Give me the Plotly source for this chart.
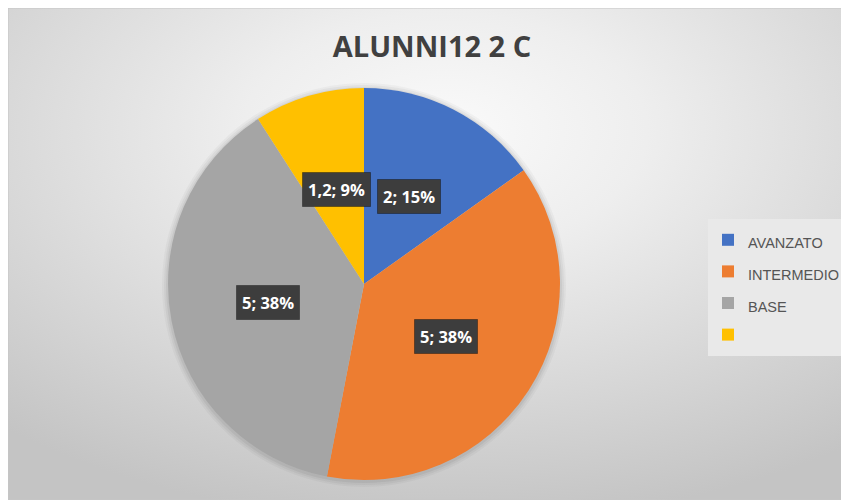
import math
import base64
import plotly.graph_objects as go

# ---- data ----
categories = ["AVANZATO", "INTERMEDIO", "BASE", ""]
values = [2, 5, 5, 1.2]
colors = ["#4472C4", "#ED7D31", "#A5A5A5", "#FFC000"]
title_text = "ALUNNI12 2 C"

# ---- layout constants (reference pixel coords; page body has an 8px margin) ----
OFF = 8
W, H = 849 - OFF, 500 - OFF
PW, PH = W, H
CX, CY, R = 364 - OFF, 284 - OFF, 196  # pie centre / radius in figure px


def fx(px):
    return px / PW


def fy(py):
    return 1 - py / PH


def fmt_val(v):
    return ("%g" % v).replace(".", ",")


total = sum(values)
pcts = [round(100 * v / total) for v in values]
label_texts = [f"{fmt_val(v)}; {p}%" for v, p in zip(values, pcts)]
legend_names = [f"<span style='font-size:14.5px'>{c}</span>" for c in categories]

fig = go.Figure()
fig.add_trace(go.Pie(
    labels=legend_names,
    values=values,
    sort=False,
    direction="clockwise",
    rotation=0,
    marker=dict(colors=colors, line=dict(width=0)),
    textinfo="none",
    hoverinfo="skip",
    domain=dict(x=[fx(CX - R), fx(CX + R)], y=[fy(CY + R), fy(CY - R)]),
))

# data labels (positions derived from the slice angles)
annotations = []
cum = 0
for v, t in zip(values, label_texts):
    mid = (cum + v / 2) / total
    cum += v
    th = 2 * math.pi * mid
    r = 0.5 * R
    px = CX + r * math.sin(th)
    py = CY - r * math.cos(th)
    annotations.append(dict(x=fx(px), y=fy(py), xref="paper", yref="paper", showarrow=False,
                            text=t, borderpad=5, xanchor="center", yanchor="middle",
                            bgcolor="#3d3d3d", bordercolor="rgba(0,0,0,0.35)", borderwidth=1,
                            font=dict(family="Open Sans", size=16.5, color="white", weight="bold")))

svg = (
    f'<svg xmlns="http://www.w3.org/2000/svg" width="{PW}" height="{PH}">'
    '<defs><radialGradient id="g" cx="52%" cy="25%" r="80%">'
    '<stop offset="0" stop-color="#fafafa"/>'
    '<stop offset="0.3" stop-color="#eeeeee"/>'
    '<stop offset="1" stop-color="#c4c4c4"/>'
    '</radialGradient></defs>'
    f'<rect width="{PW}" height="{PH}" fill="url(#g)"/></svg>'
)
src = "data:image/svg+xml;base64," + base64.b64encode(svg.encode()).decode()

shadow_shapes = []
for k, a in [(6, 0.03), (4, 0.04), (2, 0.05)]:
    shadow_shapes.append(dict(type="circle", xref="paper", yref="paper",
                              x0=fx(CX - R - k), x1=fx(CX + R + k),
                              y0=fy(CY + R + k + 1), y1=fy(CY - R - k + 1),
                              fillcolor=f"rgba(0,0,0,{a})", line=dict(width=0),
                              layer="below"))

fig.update_layout(
    width=W, height=H,
    margin=dict(l=0, r=0, t=0, b=0, pad=0),
    paper_bgcolor="white",
    plot_bgcolor="rgba(0,0,0,0)",
    title=dict(text=title_text, x=fx(432 - OFF), xref="paper", xanchor="center",
               y=fy(47 - OFF), yref="paper", yanchor="middle",
               font=dict(family="Open Sans", size=29, color="#404040", weight="bold")),
    legend=dict(
        x=fx(708 - OFF), xanchor="left",
        y=fy(219 - OFF), yanchor="top",
        bgcolor="#e9e9e9",
        font=dict(family="Liberation Sans", size=22, color="#555555"),
        traceorder="normal",
    ),
    images=[dict(source=src, xref="paper", yref="paper", x=0, y=1,
                 sizex=1, sizey=1, xanchor="left", yanchor="top",
                 sizing="stretch", layer="below")],
    shapes=shadow_shapes + [dict(type="rect", xref="paper", yref="paper", x0=0, y0=0, x1=1, y1=1,
                                 line=dict(color="#c6c6c6", width=1), layer="above")],
    annotations=annotations,
)

fig.write_html("out.html")
